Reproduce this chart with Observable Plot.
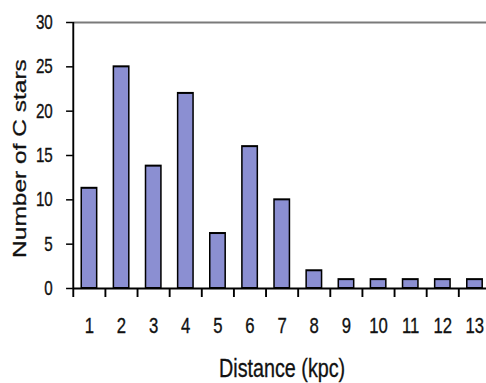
<!DOCTYPE html>
<html>
<head>
<meta charset="utf-8">
<script src="https://cdn.jsdelivr.net/npm/d3@7"></script>
<script src="https://cdn.jsdelivr.net/npm/@observablehq/plot@0.6"></script>
<style>
  html, body { margin: 0; padding: 0; background: #fff; overflow: hidden; }
  #chart { width: 486px; height: 383px; overflow: hidden; }
  /* slightly heavier lettering */
  #chart svg text { stroke: #111; stroke-width: 0.35px; }
</style>
</head>
<body>
<div id="chart"></div>
<script>
// Carbon-star counts per distance bin
const distances = [1, 2, 3, 4, 5, 6, 7, 8, 9, 10, 11, 12, 13];
const starCounts = [11.3, 25, 13.8, 22, 6.2, 16, 10, 2, 1, 1, 1, 1, 1];
const xTickLabels = ["1", "2", "3", "4", "5", "6", "7", "8", "9", "10", "11", "12", "13"];
const yTicks = [0, 5, 10, 15, 20, 25, 30];
const xTitle = "Distance (kpc)";
const yTitle = "Number of C stars";

const data = distances.map((d, i) => ({distance: d, count: starCounts[i]}));
// category boundaries, where the short x ticks sit
const boundaries = [distances[0] - 0.5, ...distances.map(d => d + 0.5)];

// The chart is laid out on a wider canvas and shown horizontally condensed,
// which gives the tall, narrow lettering of the original figure.
const outW = 486, outH = 383;
const innerW = 640;
const font = "'Liberation Sans', Arial, sans-serif";

const chart = Plot.plot({
  width: innerW,
  height: outH,
  marginLeft: 96,
  marginRight: -6,
  marginTop: 22,
  marginBottom: 95,
  style: {fontFamily: font, fontSize: "18px", color: "#111", background: "#fff", maxWidth: "none"},
  x: {type: "linear", domain: [0.5, 13.5]},
  y: {domain: [0, 30]},
  marks: [
    Plot.ruleY([30], {stroke: "#7a7a7a", strokeWidth: 2}),
    Plot.rectY(data, {
      x1: d => d.distance - 0.24,
      x2: d => d.distance + 0.24,
      y1: 0,
      y2: "count",
      fill: "#8b8fd2",
      stroke: "#000",
      strokeWidth: 2
    }),
    Plot.axisY({ticks: yTicks, tickSize: 9, tickPadding: 18, label: null, fontSize: 20, stroke: "#000", strokeWidth: 1.5}),
    Plot.axisX({ticks: boundaries, tickSize: 9, tickFormat: () => "", label: null, stroke: "#000", strokeWidth: 2.5}),
    Plot.axisX({ticks: distances, tickSize: 0, tickPadding: 29, tickFormat: (d, i) => xTickLabels[i], label: null, fontSize: 22}),
    Plot.ruleX([0.5], {stroke: "#000", strokeWidth: 2.5}),
    Plot.ruleY([0], {stroke: "#000", strokeWidth: 2}),
    Plot.text([xTitle], {frameAnchor: "bottom", lineAnchor: "middle", textAnchor: "middle", dy: 80, fontSize: 26, fill: "#111"}),
    Plot.text([yTitle], {frameAnchor: "left", lineAnchor: "middle", textAnchor: "middle", rotate: -90, dx: -70, dy: 3, fontSize: 24.5, fill: "#111"})
  ]
});

// show the wide canvas squeezed into the output box
chart.setAttribute("width", outW);
chart.setAttribute("height", outH);
chart.setAttribute("preserveAspectRatio", "none");
chart.style.width = outW + "px";
chart.style.height = outH + "px";

document.getElementById("chart").appendChild(chart);
</script>
</body>
</html>
